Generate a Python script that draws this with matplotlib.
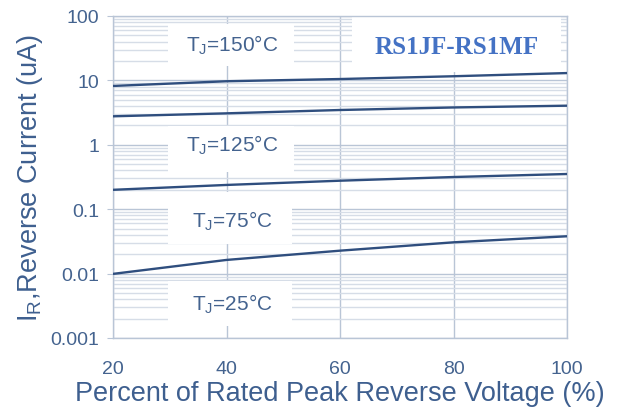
import matplotlib
matplotlib.use("Agg")
import matplotlib.pyplot as plt
from matplotlib.patches import Rectangle
from matplotlib.ticker import LogLocator, FixedLocator, NullFormatter

# ---- data ----
voltage_pct = [20, 40, 60, 80, 100]
ir_150C = [8.2, 9.7, 10.5, 11.6, 13.0]
ir_125C = [2.77, 3.08, 3.47, 3.8, 4.05]
ir_75C = [0.20, 0.238, 0.277, 0.316, 0.352]
ir_25C = [0.0099, 0.0163, 0.0227, 0.0306, 0.038]

x_ticks = [20, 40, 60, 80, 100]
y_ticks = [0.001, 0.01, 0.1, 1, 10, 100]
y_tick_labels = ["0.001", "0.01", "0.1", "1", "10", "100"]

label_texts = ["T$_J$=150°C", "T$_J$=125°C", "T$_J$=75°C", "T$_J$=25°C"]
title_text = "RS1JF-RS1MF"

# ---- style ----
plt.rcParams['font.family'] = ['Liberation Sans', 'DejaVu Sans']
plt.rcParams['mathtext.default'] = 'regular'

W, H = 638, 414
fig = plt.figure(figsize=(W / 100, H / 100), dpi=100)
L, R, T, B = 113, 567, 17, 339
ax = fig.add_axes([L / W, 1 - B / H, (R - L) / W, (B - T) / H])

line_col = "#2f4e7e"
tick_col = "#44638f"
major_grid = "#b9c5d6"
minor_grid = "#d6dde7"

for ys in (ir_150C, ir_125C, ir_75C, ir_25C):
    ax.plot(voltage_pct, ys, color=line_col, lw=1.7, zorder=3, solid_capstyle='butt')

ax.set_yscale('log')
ax.set_xlim(20, 100)
ax.set_ylim(0.001, 100)

ax.yaxis.set_major_locator(FixedLocator(y_ticks))
ax.set_yticklabels(y_tick_labels)
ax.yaxis.set_minor_locator(LogLocator(base=10, subs=range(2, 10)))
ax.yaxis.set_minor_formatter(NullFormatter())
ax.set_xticks(x_ticks)

ax.grid(True, which='major', axis='both', color=major_grid, lw=1.0, zorder=0)
ax.grid(True, which='minor', axis='y', color=minor_grid, lw=1.0, zorder=0)
ax.set_axisbelow(True)

for s in ax.spines.values():
    s.set_color(major_grid)
    s.set_linewidth(1.0)

ax.tick_params(axis='y', which='major', length=4, color=major_grid, pad=6,
               labelsize=14, labelcolor=tick_col)
ax.tick_params(axis='y', which='minor', length=0)
ax.tick_params(axis='x', which='major', length=0, pad=16,
               labelsize=14, labelcolor=tick_col)

ax.set_xlabel("Percent of Rated Peak Reverse Voltage (%)", fontsize=19.5,
              color="#3e5f8f", labelpad=2)
ax.set_ylabel("I$_R$,Reverse Current (uA)", fontsize=19.5, color="#3e5f8f",
              labelpad=4)

# label boxes (pixel-based, axes fraction)
def fx(px):
    return (px - L) / (R - L)

def fy(py):
    return 1 - (py - T) / (B - T)

boxes = [(168, 294, 25, 67), (168, 294, 127, 173), (168, 292, 193, 245), (168, 292, 282, 327)]
text_y = [45, 145, 221, 304]
for (x0, x1, y0, y1), ty, txt in zip(boxes, text_y, label_texts):
    ax.add_patch(Rectangle((fx(x0), fy(y1)), fx(x1) - fx(x0), fy(y0) - fy(y1),
                           transform=ax.transAxes, facecolor='white', edgecolor='none',
                           zorder=1.5))
    ax.text(fx(232), fy(ty), txt, transform=ax.transAxes, ha='center', va='center',
            fontsize=15, color=tick_col, zorder=4)

# title box
ax.add_patch(Rectangle((fx(352), fy(73)), fx(561) - fx(352), fy(17) - fy(73),
                       transform=ax.transAxes, facecolor='white', edgecolor='none',
                       zorder=1.5))
ax.text(fx(457), fy(47), title_text, transform=ax.transAxes, ha='center', va='center',
        fontsize=18, fontweight='bold', family=['Liberation Serif', 'DejaVu Serif'],
        color="#4472C4", zorder=4)

fig.savefig("out.png", dpi=100, facecolor='white')
